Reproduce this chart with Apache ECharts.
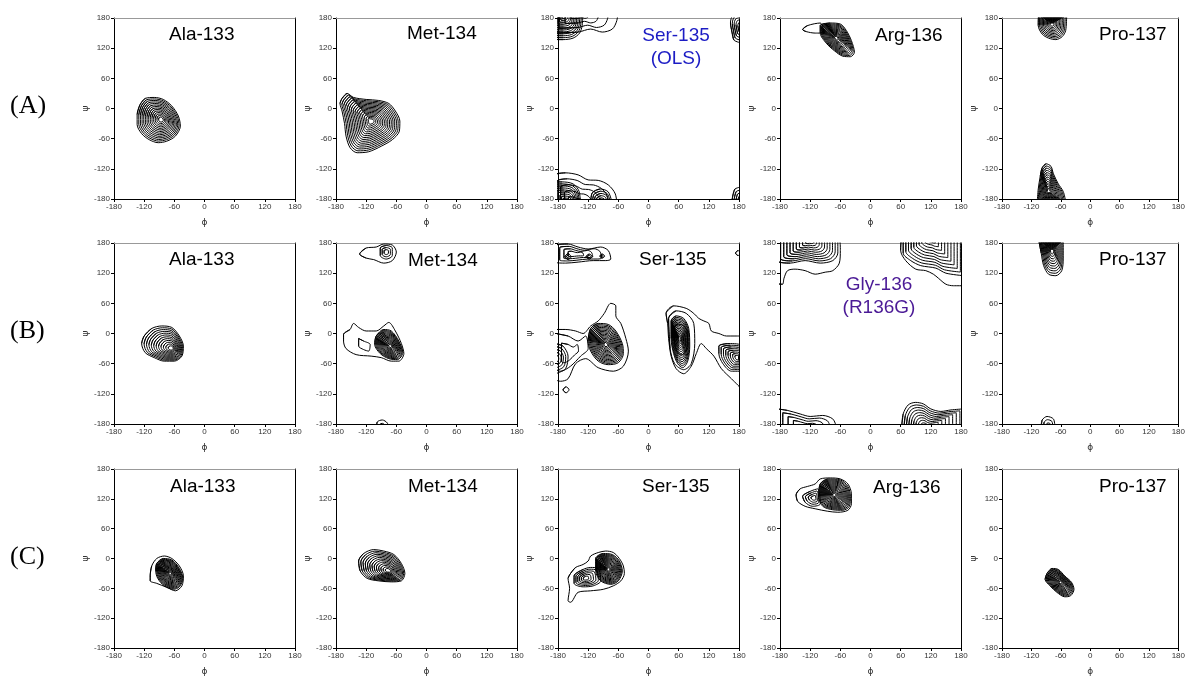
<!DOCTYPE html>
<html>
<head>
<meta charset="utf-8">
<script src="https://cdn.jsdelivr.net/npm/echarts@6/dist/echarts.min.js"></script>
<style>
  html, body { margin: 0; padding: 0; background: #fff; }
  #chart { width: 1188px; height: 677px; }
</style>
</head>
<body>
<div id="chart"></div>
<script>
// axis ticks (phi / psi, degrees)
var angleTicks = [-180, -120, -60, 0, 60, 120, 180];
var rowLabels = ['(A)', '(B)', '(C)'];

// panel titles, row by row
var titles = [
    ['Ala-133', 'Met-134', 'Ser-135\n(OLS)', 'Arg-136', 'Pro-137'],
    ['Ala-133', 'Met-134', 'Ser-135', 'Gly-136\n(R136G)', 'Pro-137'],
    ['Ala-133', 'Met-134', 'Ser-135', 'Arg-136', 'Pro-137']
];
var titleColors = [
    ['#000', '#000', '#1c1cc4', '#000', '#000'],
    ['#000', '#000', '#000', '#4b1a96', '#000'],
    ['#000', '#000', '#000', '#000', '#000']
];

// contour blobs: outer contour (phi, psi), core point, number of levels
var A1 = [
    { core: [-86, -22], levels: 14, outline: [[-128, 8], [-118, 20], [-100, 22], [-82, 18], [-65, 5], [-52, -15], [-48, -35], [-58, -55], [-75, -65], [-92, -68], [-110, -62], [-125, -50], [-134, -32], [-134, -12]] }
];
var A2 = [
    { core: [-110, -25], levels: 16, outline: [[-168, 20], [-158, 30], [-145, 22], [-120, 18], [-95, 16], [-75, 10], [-62, -5], [-53, -25], [-54, -45], [-68, -62], [-90, -75], [-115, -86], [-138, -88], [-152, -78], [-160, -55], [-163, -30], [-168, -5], [-172, 10]] }
];
var A3 = [
    { core: [-168, 185], levels: 12, outline: [[-200, 140], [-170, 137], [-150, 140], [-137, 150], [-132, 165], [-130, 200], [-200, 200]] },
    { core: [-140, 190], levels: 4, outline: [[-190, 150], [-140, 152], [-115, 158], [-92, 152], [-72, 158], [-63, 175], [-60, 200], [-190, 200]] },
    { core: [-150, -190], levels: 5, outline: [[-190, -135], [-165, -128], [-140, -132], [-120, -142], [-100, -143], [-80, -152], [-66, -170], [-62, -200], [-190, -200]] },
    { core: [-162, -188], levels: 10, outline: [[-195, -150], [-172, -146], [-150, -150], [-138, -165], [-135, -200], [-195, -200]] },
    { core: [-92, -188], levels: 6, outline: [[-112, -168], [-96, -160], [-80, -166], [-72, -190], [-115, -190]] },
    { core: [186, 162], levels: 6, outline: [[166, 152], [170, 136], [186, 130], [186, 192], [168, 186], [163, 170]] },
    { core: [186, -186], levels: 5, outline: [[168, -172], [172, -160], [190, -155], [190, -190], [165, -190]] }
];
var A4 = [
    { core: [-100, 160], levels: 1, outline: [[-135, 157], [-125, 165], [-100, 170], [-92, 150], [-110, 150], [-128, 153]] },
    { core: [-68, 140], levels: 14, outline: [[-100, 165], [-80, 170], [-60, 168], [-48, 155], [-38, 135], [-32, 112], [-40, 103], [-55, 104], [-72, 115], [-88, 130], [-100, 150]] }
];
var A5 = [
    { core: [-78, 168], levels: 10, outline: [[-105, 185], [-106, 165], [-98, 148], [-85, 140], [-70, 137], [-57, 143], [-50, 155], [-48, 185]] },
    { core: [-85, -165], levels: 12, outline: [[-98, -118], [-90, -110], [-80, -115], [-75, -130], [-65, -150], [-55, -165], [-50, -185], [-108, -185], [-106, -160], [-102, -135]] }
];

var B1 = [
    { core: [-65, -30], levels: 12, outline: [[-120, -5], [-105, 10], [-85, 15], [-65, 12], [-50, -5], [-42, -25], [-45, -45], [-60, -55], [-80, -55], [-100, -48], [-118, -38], [-125, -20]] }
];
var B2 = [
    { core: [-100, 160], levels: 1, outline: [[-133, 158], [-120, 170], [-100, 172], [-85, 178], [-68, 176], [-60, 162], [-68, 145], [-85, 140], [-105, 147], [-120, 150]] },
    { core: [-80, 162], levels: 3, outline: [[-92, 170], [-80, 175], [-68, 170], [-68, 155], [-80, 148], [-92, 155]] },
    { core: [-100, -20], levels: 1, outline: [[-165, -2], [-152, 8], [-145, 20], [-135, 12], [-120, 5], [-100, 5], [-85, 15], [-75, 22], [-62, 5], [-50, -20], [-45, -40], [-55, -55], [-70, -55], [-90, -48], [-110, -45], [-140, -42], [-160, -30], [-165, -15]] },
    { core: [-125, -22], levels: 1, outline: [[-135, -10], [-125, -15], [-112, -22], [-115, -35], [-125, -32], [-135, -25]] },
    { core: [-72, -25], levels: 14, outline: [[-100, -5], [-85, 8], [-70, 5], [-55, -15], [-47, -38], [-58, -52], [-75, -50], [-92, -40], [-103, -22]] },
    { core: [-88, -186], levels: 2, outline: [[-100, -190], [-98, -176], [-88, -172], [-78, -178], [-75, -190]] }
];
var B3 = [
    { core: [-150, 158], levels: 4, outline: [[-185, 175], [-160, 178], [-140, 172], [-120, 168], [-95, 172], [-80, 165], [-75, 148], [-85, 145], [-110, 145], [-140, 142], [-165, 140], [-185, 142]] },
    { core: [-160, 153], levels: 2, outline: [[-166, 153], [-160, 159], [-154, 153], [-160, 147]] },
    { core: [-118, 153], levels: 2, outline: [[-124, 153], [-118, 158], [-112, 153], [-118, 148]] },
    { core: [-92, 154], levels: 2, outline: [[-97, 154], [-92, 158], [-87, 154], [-92, 150]] },
    { core: [-120, -10], levels: 1, outline: [[-185, 8], [-165, 8], [-145, 5], [-130, 0], [-115, 15], [-100, 25], [-88, 40], [-75, 60], [-65, 55], [-65, 35], [-55, 20], [-45, -10], [-40, -35], [-50, -65], [-70, -75], [-100, -68], [-125, -50], [-145, -60], [-160, -90], [-175, -95], [-185, -90]] },
    { core: [-160, -40], levels: 2, outline: [[-185, 0], [-160, -5], [-140, -15], [-125, -5], [-120, -30], [-135, -45], [-155, -65], [-175, -75], [-185, -70]] },
    { core: [-184, -50], levels: 5, outline: [[-185, -20], [-170, -25], [-160, -45], [-165, -70], [-185, -80]] },
    { core: [-85, -22], levels: 15, outline: [[-115, 10], [-100, 20], [-80, 18], [-65, 5], [-52, -20], [-50, -40], [-60, -58], [-80, -62], [-100, -55], [-115, -35], [-120, -15]] },
    { core: [-164, -112], levels: 1, outline: [[-170, -112], [-164, -106], [-158, -112], [-164, -118]] },
    { core: [90, -20], levels: 1, outline: [[35, 40], [50, 55], [75, 50], [90, 40], [100, 30], [110, 25], [120, 20], [125, 5], [140, 0], [155, -5], [170, -5], [185, -5], [185, -110], [165, -90], [145, -70], [130, -45], [115, -30], [105, -20], [95, -40], [85, -65], [70, -80], [55, -70], [45, -45], [40, -10], [38, 20]] },
    { core: [62, -10], levels: 2, outline: [[40, 30], [55, 45], [75, 40], [90, 20], [92, -20], [85, -60], [70, -72], [52, -60], [43, -30]] },
    { core: [62, -10], levels: 14, outline: [[45, 25], [55, 35], [70, 30], [80, 10], [82, -25], [78, -55], [68, -68], [58, -60], [50, -40], [45, -10]] },
    { core: [178, -48], levels: 8, outline: [[140, -25], [160, -20], [185, -25], [185, -75], [165, -75], [148, -60], [140, -40]] },
    { core: [178, 160], levels: 1, outline: [[173, 160], [178, 165], [183, 160], [178, 155]] }
];
var B4 = [
    { core: [-120, 150], levels: 1, outline: [[-185, 100], [-175, 98], [-172, 110], [-165, 125], [-150, 128], [-130, 125], [-110, 118], [-90, 122], [-75, 125], [-62, 140], [-60, 165], [-62, 185], [-185, 185]] },
    { core: [-120, 185], levels: 10, outline: [[-185, 145], [-160, 140], [-130, 145], [-100, 140], [-75, 145], [-65, 160], [-65, 190], [-185, 190]] },
    { core: [120, 150], levels: 1, outline: [[62, 185], [60, 165], [70, 145], [90, 128], [110, 125], [125, 118], [135, 110], [150, 98], [165, 95], [185, 95], [185, 185]] },
    { core: [120, 190], levels: 10, outline: [[65, 190], [65, 160], [80, 145], [100, 135], [130, 130], [150, 120], [185, 115], [185, 190]] },
    { core: [-130, -190], levels: 5, outline: [[-185, -150], [-165, -153], [-140, -160], [-120, -165], [-95, -163], [-75, -170], [-68, -185], [-185, -185]] },
    { core: [110, -190], levels: 10, outline: [[62, -185], [65, -160], [75, -142], [90, -137], [105, -140], [120, -150], [140, -155], [160, -152], [185, -150], [185, -185]] }
];
var B5 = [
    { core: [-78, 165], levels: 10, outline: [[-105, 185], [-100, 160], [-95, 135], [-85, 118], [-70, 115], [-58, 125], [-55, 150], [-55, 185]] },
    { core: [-85, -185], levels: 3, outline: [[-100, -185], [-98, -172], [-88, -165], [-75, -170], [-72, -185]] }
];

var C1 = [
    { core: [-75, -30], levels: 1, outline: [[-108, -35], [-105, -15], [-95, 0], [-80, 5], [-65, 0], [-50, -15], [-42, -35], [-45, -55], [-58, -65], [-75, -58], [-95, -50], [-108, -45]] },
    { core: [-68, -30], levels: 16, outline: [[-95, -10], [-82, 0], [-65, -3], [-50, -20], [-43, -40], [-50, -57], [-62, -62], [-80, -55], [-93, -40], [-97, -25]] }
];
var C2 = [
    { core: [-75, -25], levels: 13, outline: [[-135, -5], [-125, 10], [-105, 18], [-85, 15], [-65, 8], [-50, -10], [-43, -30], [-50, -45], [-70, -47], [-95, -45], [-118, -40], [-132, -25]] }
];
var C3 = [
    { core: [-100, -30], levels: 1, outline: [[-155, -30], [-145, -18], [-130, -12], [-120, -5], [-115, 5], [-100, 12], [-85, 15], [-70, 12], [-58, 0], [-50, -15], [-48, -30], [-55, -45], [-70, -55], [-90, -62], [-115, -65], [-140, -68], [-155, -88], [-160, -85], [-157, -60], [-160, -40]] },
    { core: [-125, -40], levels: 6, outline: [[-148, -35], [-130, -22], [-115, -18], [-100, -20], [-95, -45], [-110, -55], [-130, -57], [-148, -50]] },
    { core: [-80, -22], levels: 15, outline: [[-105, 0], [-90, 10], [-72, 8], [-58, -5], [-52, -25], [-60, -45], [-75, -52], [-95, -45], [-105, -25]] }
];
var C4 = [
    { core: [-90, 125], levels: 1, outline: [[-148, 128], [-140, 140], [-125, 145], [-110, 150], [-100, 160], [-80, 162], [-60, 160], [-45, 150], [-38, 130], [-38, 110], [-45, 97], [-65, 93], [-85, 95], [-110, 100], [-130, 105], [-145, 115]] },
    { core: [-112, 122], levels: 4, outline: [[-135, 125], [-120, 135], [-105, 140], [-100, 110], [-115, 105], [-130, 113]] },
    { core: [-72, 128], levels: 15, outline: [[-100, 150], [-85, 160], [-60, 158], [-45, 145], [-40, 125], [-42, 105], [-55, 97], [-75, 98], [-95, 105], [-103, 125]] }
];
var C5 = [
    { core: [-60, -48], levels: 14, outline: [[-88, -30], [-78, -20], [-65, -22], [-52, -35], [-38, -48], [-33, -62], [-40, -75], [-52, -77], [-68, -68], [-82, -55], [-92, -42]] }
];

var panels = [[A1, A2, A3, A4, A5], [B1, B2, B3, B4, B5], [C1, C2, C3, C4, C5]];

// layout (pixels)
var colLeft = [114, 336, 558, 780, 1002];
var rowTop = [18, 243, 469];
var plotSize = 181;
var titleDx = [
    [55, 71, 118, 95, 97],
    [55, 72, 81, 99, 97],
    [56, 72, 84, 93, 97]
];
var titleDy = [
    [5, 4, 6, 6, 5],
    [5, 6, 5, 30, 5],
    [6, 6, 6, 7, 6]
];

// concentric contour levels: every ring is the outline pulled toward the core
function ringData(blobs) {
    var out = [];
    blobs.forEach(function (b) {
        for (var k = 0; k < b.levels; k++) {
            var f = 1 - (k / b.levels) * 0.96;
            var pts = b.outline.map(function (p) {
                return [b.core[0] + (p[0] - b.core[0]) * f, b.core[1] + (p[1] - b.core[1]) * f];
            });
            // wrap around so the smoothed ring has no cusp where it closes
            out.push(pts[pts.length - 1]);
            out = out.concat(pts);
            out.push(pts[0], pts[1]);
            out.push(['-', '-']);
        }
    });
    return out;
}

var chart = echarts.init(document.getElementById('chart'));
var grids = [], xAxes = [], yAxes = [], series = [], graphics = [];

for (var r = 0; r < 3; r++) {
    for (var c = 0; c < 5; c++) {
        var gi = grids.length;
        grids.push({ left: colLeft[c], top: rowTop[r], width: plotSize, height: plotSize });
        var axBase = {
            gridIndex: gi, type: 'value', min: -180, max: 180, interval: 60,
            splitLine: { show: false }
        };
        xAxes.push(Object.assign({}, axBase, {
            position: 'bottom', name: 'ϕ', nameLocation: 'middle', nameGap: 19,
            nameTextStyle: { fontSize: 9, color: '#333', fontFamily: 'DejaVu Sans' },
            axisLine: { show: true, onZero: false, lineStyle: { color: '#000', width: 1 } },
            axisTick: { show: true, inside: false, length: 3, lineStyle: { color: '#000' } },
            axisLabel: { fontSize: 8, color: '#333', margin: 4, fontFamily: 'Liberation Sans' }
        }));
        xAxes.push(Object.assign({}, axBase, {
            position: 'top',
            axisLine: { show: true, onZero: false, lineStyle: { color: '#999', width: 1 } },
            axisTick: { show: false }, axisLabel: { show: false }
        }));
        yAxes.push(Object.assign({}, axBase, {
            position: 'left', name: 'ψ', nameLocation: 'middle', nameGap: 24, nameRotate: 90,
            nameTextStyle: { fontSize: 9, color: '#333', fontFamily: 'DejaVu Sans' },
            axisLine: { show: true, onZero: false, lineStyle: { color: '#000', width: 1 } },
            axisTick: { show: true, inside: false, length: 3, lineStyle: { color: '#000' } },
            axisLabel: { fontSize: 8, color: '#333', margin: 4, fontFamily: 'Liberation Sans' }
        }));
        yAxes.push(Object.assign({}, axBase, {
            position: 'right',
            axisLine: { show: true, onZero: false, lineStyle: { color: '#000', width: 1 } },
            axisTick: { show: false }, axisLabel: { show: false }
        }));
        series.push({
            type: 'line',
            xAxisIndex: gi * 2,
            yAxisIndex: gi * 2,
            data: ringData(panels[r][c]),
            showSymbol: false,
            symbol: 'none',
            smooth: 0.3,
            connectNulls: false,
            clip: true,
            lineStyle: { color: '#000', width: 1 },
            silent: true
        });
        var two = titles[r][c].indexOf('\n') >= 0;
        graphics.push({
            type: 'text',
            left: colLeft[c] + titleDx[r][c] - (two ? 40 : 0),
            top: rowTop[r] + titleDy[r][c],
            style: {
                text: titles[r][c],
                fill: titleColors[r][c],
                font: '19px "Liberation Sans", Arial, sans-serif',
                textAlign: two ? 'center' : 'left',
                lineHeight: 23,
                width: two ? 80 : undefined
            }
        });
    }
    graphics.push({
        type: 'text',
        left: 10,
        top: rowTop[r] + 75,
        style: {
            text: rowLabels[r],
            fill: '#000',
            font: '26px "Liberation Serif", "Times New Roman", serif'
        }
    });
}

chart.setOption({
    animation: false,
    backgroundColor: '#fff',
    grid: grids,
    xAxis: xAxes,
    yAxis: yAxes,
    series: series,
    graphic: graphics
});
</script>
</body>
</html>
